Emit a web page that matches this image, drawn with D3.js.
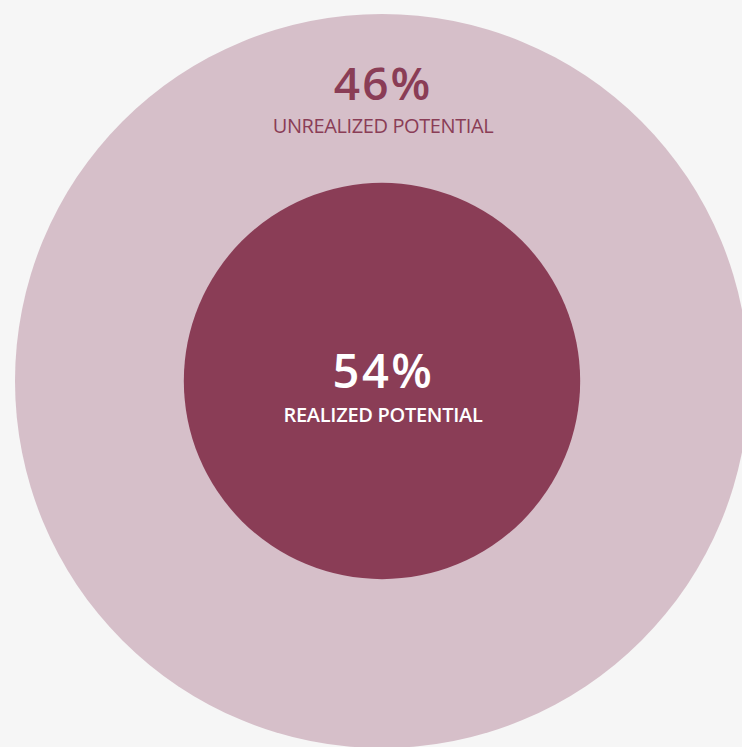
<!DOCTYPE html>
<html>
<head>
<meta charset="utf-8">
<script src="https://cdn.jsdelivr.net/npm/d3@7"></script>
<style>
  html, body { margin: 0; padding: 0; background: #f6f6f6; overflow: hidden; }
  svg { display: block; }
</style>
</head>
<body>
<script>
const categories = ["UNREALIZED POTENTIAL", "REALIZED POTENTIAL"];
const values = [100, 54];       // outer circle = whole, inner = realized share
const labels = ["46%", "54%"];
const fills = ["#d6bfc9", "#8a3d56"];

const width = 742, height = 747;
const cx = 382, cy = 381;

const svg = d3.select("body")
.append("svg")
.attr("width", width)
.attr("height", height);

const r = d3.scaleLinear()
.domain([0, 100])
.range([0, 367]);

const data = categories.map((c, i) => ({ cat: c, v: values[i], label: labels[i], fill: fills[i] }));

svg.selectAll("circle")
.data(data)
.enter()
.append("circle")
.attr("cx", cx)
.attr("cy", cy)
.attr("r", d => r(d.v))
.attr("fill", d => d.fill);

// outer label sits in the ring above the inner circle
const outer = svg.append("g").attr("fill", "#8a3d56").attr("text-anchor", "middle")
.style("font-family", "'Open Sans', sans-serif");

outer.append("text")
.attr("x", cx + 1)
.attr("y", 100)
.style("font-size", "46px")
.style("font-weight", 600)
.style("letter-spacing", "2px")
.text(data[0].label);

outer.append("text")
.attr("x", cx + 1)
.attr("y", 133)
.style("font-size", "20px")
.style("letter-spacing", "-0.4px")
.text(data[0].cat);

const inner = svg.append("g").attr("fill", "#ffffff").attr("text-anchor", "middle")
.style("font-family", "'Open Sans', sans-serif");

inner.append("text")
.attr("x", cx + 1.5)
.attr("y", 388)
.style("font-size", "47px")
.style("font-weight", 600)
.style("letter-spacing", "2.5px")
.text(data[1].label);

inner.append("text")
.attr("x", cx + 1)
.attr("y", 422)
.style("font-size", "20px")
.style("font-weight", 600)
.style("letter-spacing", "-0.3px")
.text(data[1].cat);
</script>
</body>
</html>
